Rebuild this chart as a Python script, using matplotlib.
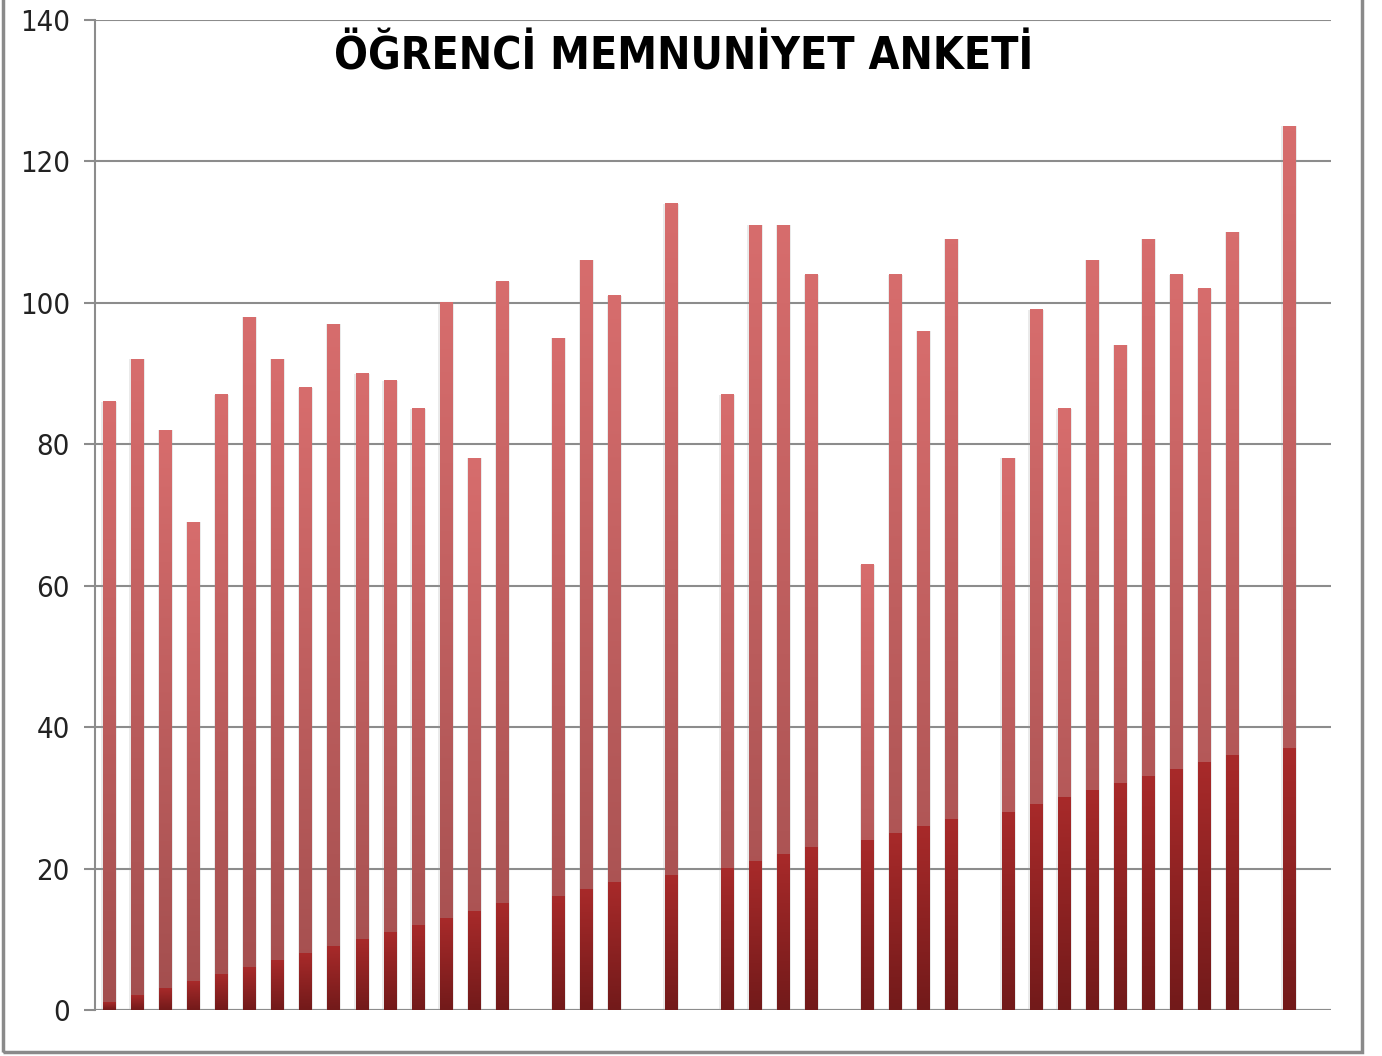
import matplotlib
matplotlib.use('Agg')
import matplotlib.pyplot as plt
import matplotlib.patches as patches
import numpy as np
from matplotlib.colors import LinearSegmentedColormap

# slot positions of the bars (empty categories are skipped)
slots = [0, 1, 2, 3, 4, 5, 6, 7, 8, 9, 10, 11, 12, 13, 14,
         16, 17, 18,
         20,
         22, 23, 24, 25,
         27, 28, 29, 30,
         32, 33, 34, 35, 36, 37, 38, 39, 40,
         42]
order_no = list(range(1, 38))
scores = [86, 92, 82, 69, 87, 98, 92, 88, 97, 90, 89, 85, 100, 78, 103,
          95, 106, 101,
          114,
          87, 111, 111, 104,
          63, 104, 96, 109,
          78, 99, 85, 106, 94, 109, 104, 102, 110,
          125]
yticks = [0, 20, 40, 60, 80, 100, 120, 140]
title = 'ÖĞRENCİ MEMNUNİYET ANKETİ'

fam = ['DejaVu Sans']

light = LinearSegmentedColormap.from_list('light', ['#a24e4e', '#d76d6d'])
dark = LinearSegmentedColormap.from_list('dark', ['#721a1a', '#a82a2a'])
grad = np.linspace(0, 1, 256).reshape(-1, 1)

fig = plt.figure(figsize=(13.82, 10.56), dpi=100)
ax = fig.add_axes([95 / 1382, 1 - 1010 / 1056, (1331 - 95) / 1382, (1010 - 20) / 1056])

w = 0.45
for x, top, low in zip(slots, scores, order_no):
    # soft shadow at the sides
    ax.add_patch(patches.Rectangle((x - w / 2 - 0.05, 0), w + 0.1, top,
                                   color='#999999', alpha=0.2, lw=0, zorder=2))
    ax.imshow(grad, cmap=light, origin='lower', aspect='auto',
              extent=(x - w / 2, x + w / 2, 0, top), zorder=3, interpolation='bilinear')
    ax.imshow(grad, cmap=dark, origin='lower', aspect='auto',
              extent=(x - w / 2, x + w / 2, 0, low), zorder=4, interpolation='bilinear')

ax.set_xlim(-0.5, 43.5)
ax.set_ylim(0, 140)
ax.set_yticks(yticks)
ax.set_yticklabels([str(v) for v in yticks], family=fam, fontstretch='condensed',
                   fontsize=21, color='#222222')
ax.set_xticks([])
ax.grid(axis='y', color='#8c8c8c', lw=1.5, zorder=1)
ax.set_axisbelow(True)
for s in ['top', 'right', 'bottom']:
    ax.spines[s].set_visible(False)
ax.spines['left'].set_color('#8c8c8c')
ax.spines['left'].set_linewidth(1.5)
ax.tick_params(axis='y', length=8, width=1.5, color='#8c8c8c', pad=10)
ax.axhline(0, color='#8c8c8c', lw=1.5, zorder=1)

fig.text(684 / 1382, 1 - 57 / 1056, title, ha='center', va='center',
         family=fam, fontstretch='condensed', fontsize=32, fontweight='bold', color='black')

# outer chart border
fig.patches.append(patches.Rectangle((3 / 1382, 1 - 1052 / 1056), (1362 - 3) / 1382, 1.2,
                                     transform=fig.transFigure, fill=False,
                                     edgecolor='#8a8a8a', lw=2.5))

fig.savefig('out.png', dpi=100)
